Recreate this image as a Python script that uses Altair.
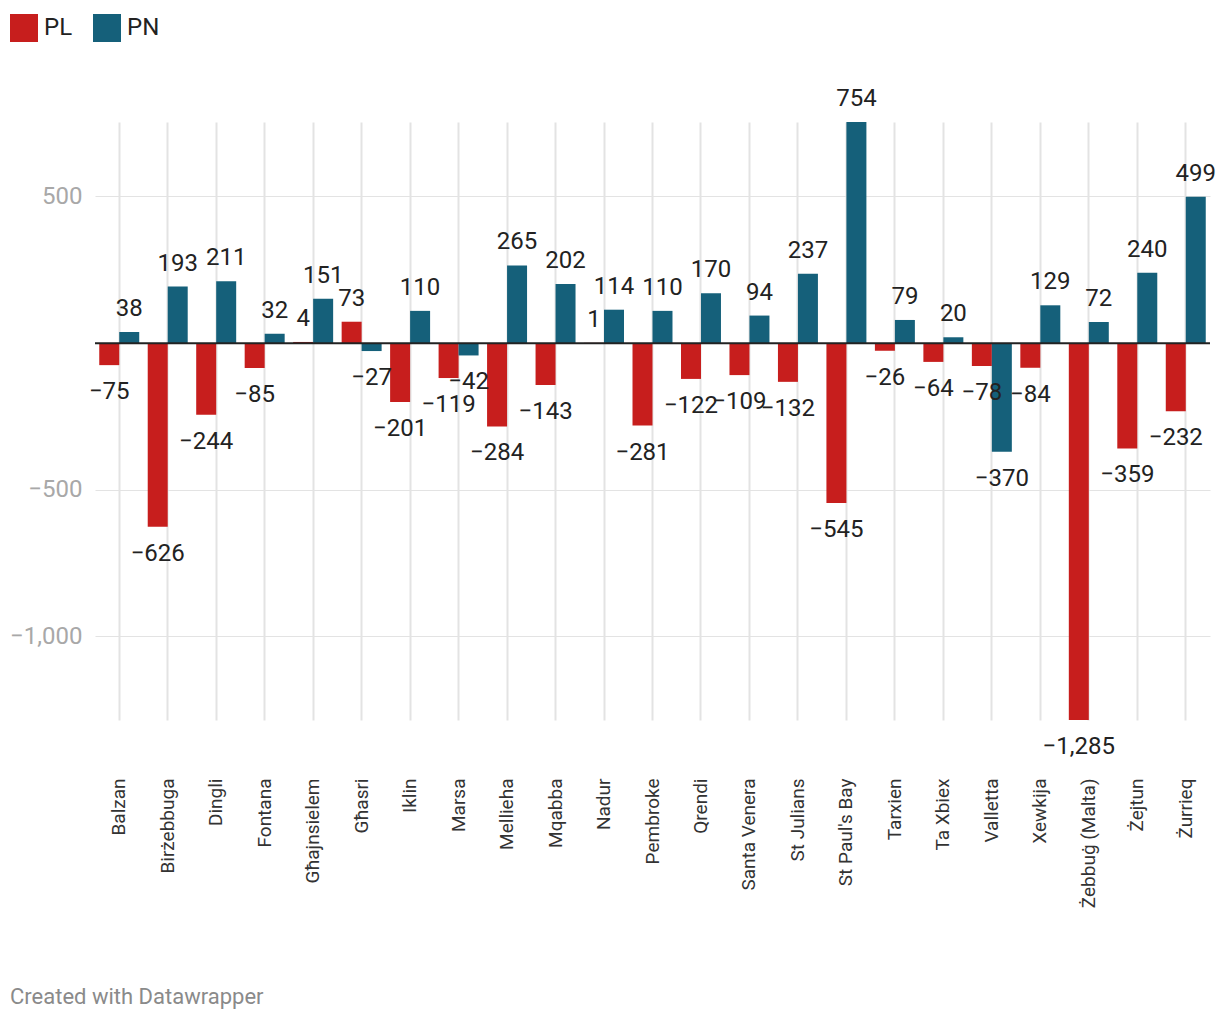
import altair as alt
import pandas as pd

categories = [
    "Balzan", "Birżebbuga", "Dingli", "Fontana", "Għajnsielem", "Għasri",
    "Iklin", "Marsa", "Mellieha", "Mqabba", "Nadur", "Pembroke", "Qrendi",
    "Santa Venera", "St Julians", "St Paul's Bay", "Tarxien", "Ta Xbiex",
    "Valletta", "Xewkija", "Żebbuġ (Malta)", "Żejtun", "Żurrieq",
]
pl_values = [-75, -626, -244, -85, 4, 73, -201, -119, -284, -143, 1, -281,
             -122, -109, -132, -545, -26, -64, -78, -84, -1285, -359, -232]
pn_values = [38, 193, 211, 32, 151, -27, 110, -42, 265, 202, 114, 110,
             170, 94, 237, 754, 79, 20, -370, 129, 72, 240, 499]
parties = ["PL", "PN"]
party_colors = ["#c71e1d", "#15607a"]
y_ticks = [-1000, -500, 500]
y_domain = [-1285, 754]
zero_line = [0]
footer_text = ["Created with Datawrapper"]

rows = []
for c, a, b in zip(categories, pl_values, pn_values):
    rows.append({"municipality": c, "party": "PL", "value": a})
    rows.append({"municipality": c, "party": "PN", "value": b})
df = pd.DataFrame(rows)

W, H = 1115, 598

x = alt.X(
    "municipality:N", sort=categories,
    scale=alt.Scale(paddingInner=0, paddingOuter=0),
    axis=alt.Axis(title=None, labelAngle=-90, ticks=False, tickSize=0, domain=False,
                  labelPadding=58, labelFontSize=19, labelColor="#333333",
                  grid=True, gridColor="#e3e3e3", gridWidth=2, bandPosition=0.5,
                  labelLimit=300),
)
xo = alt.XOffset("party:N", sort=parties,
                 scale=alt.Scale(paddingInner=0, paddingOuter=0.2125))
y_axis = alt.Axis(title=None, values=y_ticks, format=",.0f", grid=True,
                  gridColor="#e3e3e3", gridWidth=1, domain=False, ticks=False,
                  labelPadding=13, labelFontSize=24, labelColor="#a8a8a8")
y = alt.Y("value:Q", stack=None,
          scale=alt.Scale(domain=y_domain, nice=False, zero=False), axis=y_axis)
color = alt.Color(
    "party:N", sort=parties,
    scale=alt.Scale(domain=parties, range=party_colors),
    legend=alt.Legend(title=None, orient="none", legendX=-85, legendY=-108,
                      direction="horizontal", symbolType="square", symbolSize=784,
                      symbolStrokeWidth=0, symbolOpacity=1, labelFontSize=24,
                      labelColor="#222222", labelOffset=6, columnPadding=20),
)

base = alt.Chart(df)
bars = base.mark_bar().encode(x=x, xOffset=xo, y=y, color=color)

text_pos = base.mark_text(baseline="alphabetic", dy=-16, fontSize=24,
                          color="#222222").encode(
    x=x, xOffset=xo, y=y, text=alt.Text("value:Q", format=",")
).transform_filter("datum.value >= 0")

text_neg = base.mark_text(baseline="alphabetic", dy=34, fontSize=24,
                          color="#222222").encode(
    x=x, xOffset=xo, y=y, text=alt.Text("value:Q", format=",")
).transform_filter("datum.value < 0")

rule = alt.Chart(pd.DataFrame({"value": zero_line})).mark_rule(
    color="#222222", strokeWidth=2).encode(y=y)

footer = alt.Chart(pd.DataFrame({"t": footer_text})).mark_text(
    align="left", baseline="alphabetic", fontSize=22, color="#8a8a8a"
).encode(text="t:N", x=alt.value(-85), y=alt.value(882))

chart = alt.layer(bars, text_pos, text_neg, rule, footer).properties(
    width=W, height=H,
    padding={"left": 95, "top": 122, "right": 10, "bottom": 302},
    autosize=alt.AutoSizeParams(type="none"),
    background="white",
).configure(font="Roboto").configure_view(stroke=None)

chart.save("out.html", embed_options={"renderer": "svg", "actions": False})
